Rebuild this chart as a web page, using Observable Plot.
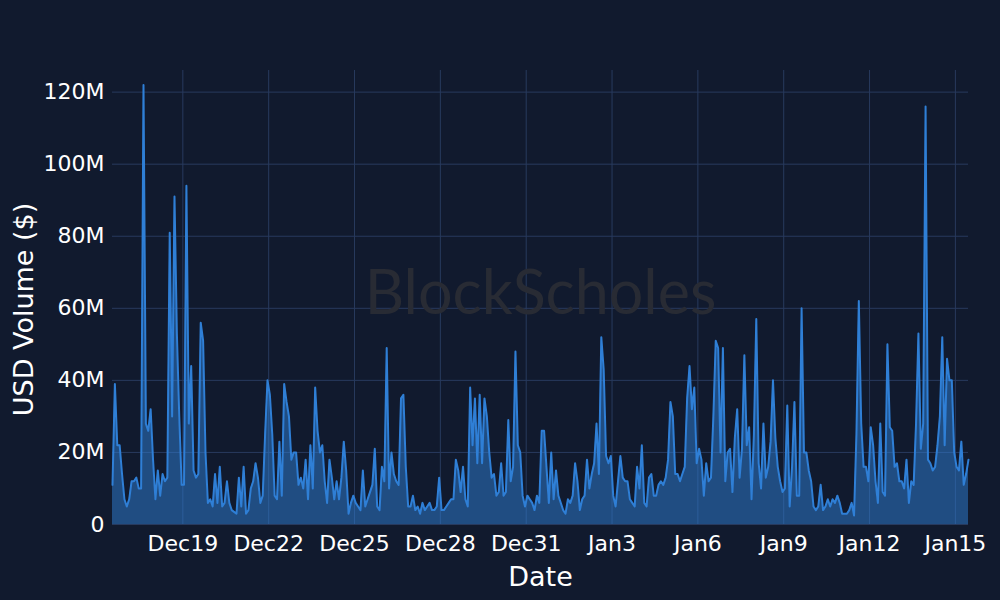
<!DOCTYPE html>
<html><head><meta charset="utf-8">
<script src="https://cdn.jsdelivr.net/npm/d3@7"></script>
<script src="https://cdn.jsdelivr.net/npm/@observablehq/plot@0.6"></script>
<style>html,body{margin:0;padding:0;background:#111a2e;}</style>
</head><body><div id="chart"></div>
<script>
// Hourly-sampled (every 2h) USD volume, in millions of dollars
const seriesStart = "2023-12-16T13:00:00Z";
const stepHours = 2;
const volDec16to21 = [11,39,22,22,14,7,5,7,12,12,13,10,10,122,28,26,32,18,7,15,8,14,12,13,81,30,91,53,30,11,11,94,28,44,15,13,14,56,51,20,6,7,5,14,6,16,5,6,12,6,4,3.5,3,13,5,16,3,4,10,12];
const volDec21to26 = [17,13,6,8,25,40,36,25,8,7,23,8,39,34,30,18,20,20,11,13,10,18,7,22,10,38,26,20,22,12,6,18,13,7,12,7,13,23,15,3,6,8,6,5,4,15,5,7,9,11,21,5,4,16,12,49,10,20,14,12];
const volDec26to31 = [11,35,36,16,5,5,8,4,5,3,6,4,5,6,4,4,5,13,4,4,5,6,7,7,18,15,9,16,7,5,38,22,35,17,36,17,35,30,20,13,14,8,9,17,8,9,29,12,16,48,22,20,8,5,8,7,6,4,8,6];
const volDec31toJan5 = [26,26,16,6,20,7,15,8,6,4,3,7,6,8,17,12,4,7,8,18,10,14,17,28,14,52,43,19,17,19,8,5,12,19,13,12,12,7,6,5,16,10,22,6,5,13,14,8,8,11,12,11,13,18,34,30,14,14,12,14];
const volJan5toJan10 = [16,35,44,32,38,17,21,18,8,17,12,13,30,51,49,20,49,12,20,21,9,24,32,13,21,47,22,27,7,25,57,17,10,28,13,16,23,40,24,16,12,9,10,33,5,16,34,8,8,60,20,20,15,12,5,4,5,11,4,5];
const volJan10toJan15 = [7,5,7,6,8,6,3,3,3,4,6,2.5,25,62,28,16,16,12,27,22,12,6,28,9,8,50,27,26,16,17,12,12,10,18,6,12,11,28,53,21,28,116,18,17,15,16,22,30,52,22,46,40,40,20,16,15,23,11,14,18];
const xTickDates = ["2023-12-19","2023-12-22","2023-12-25","2023-12-28","2023-12-31","2024-01-03","2024-01-06","2024-01-09","2024-01-12","2024-01-15"];
const yTickValues = [0,20,40,60,80,100,120];

const volume = [].concat(volDec16to21, volDec21to26, volDec26to31, volDec31toJan5, volJan5toJan10, volJan10toJan15);
const t0 = new Date(seriesStart).getTime();
const data = volume.map((v, i) => ({date: new Date(t0 + i * stepHours * 3600e3), vol: v}));
const xTicks = xTickDates.map(d => new Date(d + "T00:00:00Z"));

const lineColor = "#2f7fd6";
const gridColor = "#283a5e";

const chart = Plot.plot({
  width: 1000,
  height: 600,
  marginLeft: 112,
  marginRight: 32,
  marginTop: 70,
  marginBottom: 76,
  style: {background: "#111a2e", color: "#ffffff", fontFamily: "DejaVu Sans", fontSize: "22px"},
  x: {type: "utc", domain: [data[0].date, data[data.length - 1].date], ticks: xTicks,
      tickFormat: d3.utcFormat("%b%-d"), tickSize: 0, tickPadding: 11, label: null},
  y: {domain: [0, 126], ticks: yTickValues, tickFormat: d => d === 0 ? "0" : d + "M",
      tickSize: 0, tickPadding: 8, label: null},
  marks: [
    Plot.gridX(xTicks, {stroke: gridColor, strokeOpacity: 1, strokeWidth: 1}),
    Plot.gridY(yTickValues, {stroke: gridColor, strokeOpacity: 1, strokeWidth: 1}),
    Plot.text(["BlockScholes"], {text: d => d, frameAnchor: "middle", dy: -3, fontSize: 61, fontFamily: "Lato", fill: "#282b34"}),
    Plot.areaY(data, {x: "date", y: "vol", fill: lineColor, fillOpacity: 0.5}),
    Plot.lineY(data, {x: "date", y: "vol", stroke: lineColor, strokeWidth: 2}),
    Plot.text(["Date"], {text: d => d, frameAnchor: "bottom", dy: 61, fontSize: 27}),
    Plot.text(["USD Volume ($)"], {text: d => d, frameAnchor: "left", textAnchor: "middle", dx: -88, dy: 12, rotate: -90, fontSize: 27})
  ]
});
document.getElementById("chart").append(chart);
</script>
</body></html>
